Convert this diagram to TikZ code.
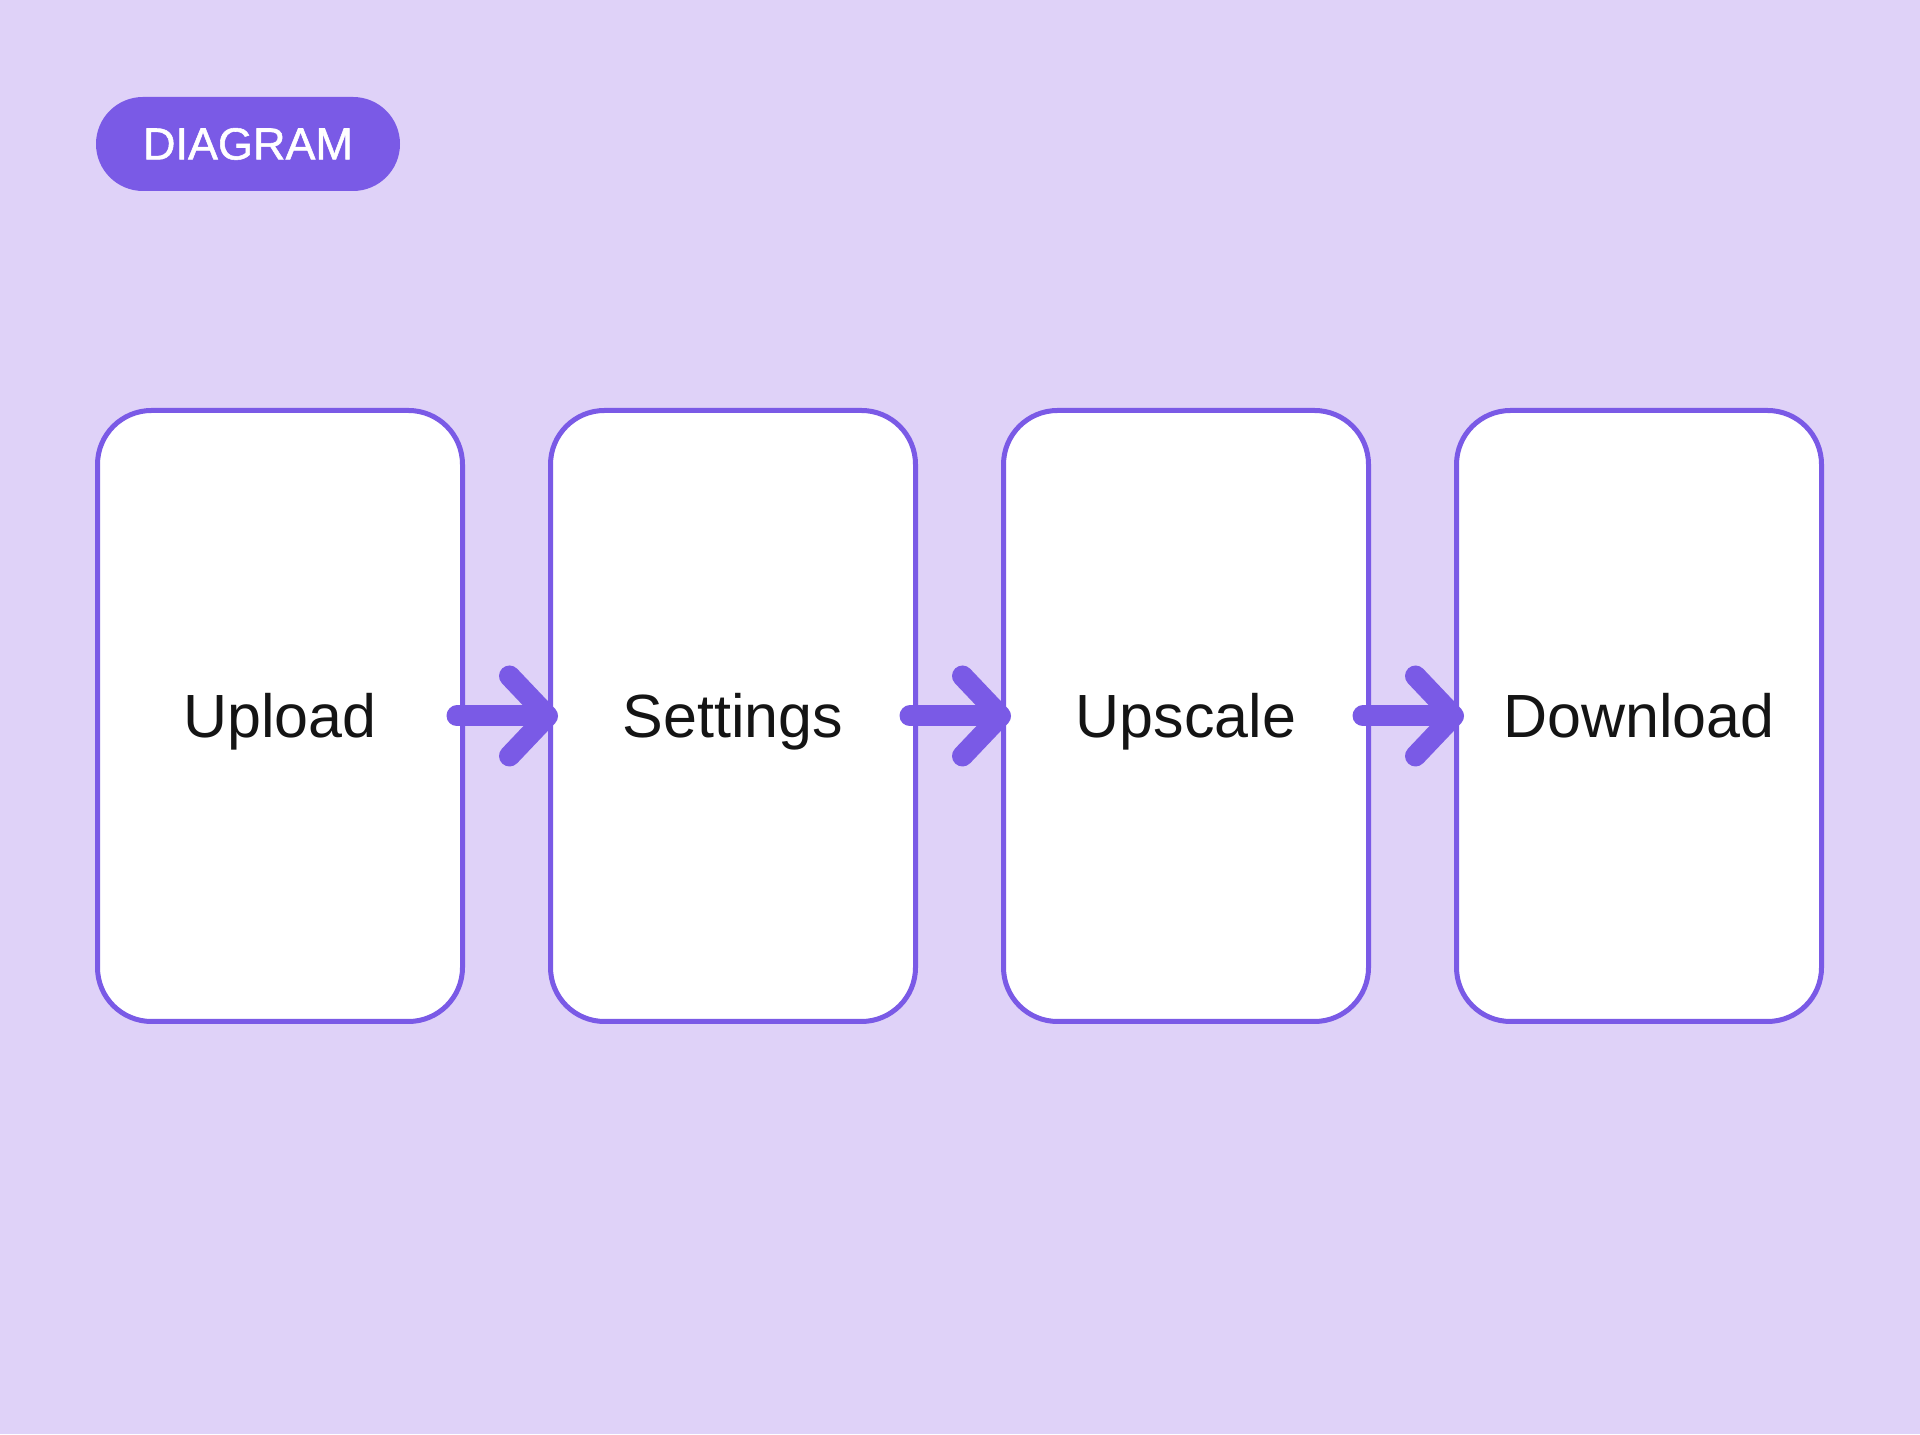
\documentclass[tikz,border=0pt]{standalone}
\usepackage{fontspec}
\setmainfont{Liberation Sans}
\newfontfamily\badgefont{Liberation Sans}[FakeBold=1.2]
\usetikzlibrary{positioning, arrows.meta}

\definecolor{bgpurple}{HTML}{DFD2F8}
\definecolor{accent}{HTML}{7A5AE6}
\definecolor{inktext}{HTML}{141414}

\begin{document}
\begin{tikzpicture}[
      stage/.style={rectangle, draw=accent, line width=2.5pt, fill=white, rounded corners=27pt,
        minimum width=182.5pt, minimum height=305.5pt, inner sep=0pt, text=inktext,
        font=\fontsize{30.5}{36}\selectfont, text height=21.8pt, text depth=0pt},
      badge/.style={rectangle, fill=accent, rounded corners=23.5pt, minimum width=152pt,
        minimum height=47pt, inner sep=0pt, text=white, font=\badgefont\fontsize{22.5}{26}\selectfont},
      flow/.style={accent, line width=10.5pt, line cap=round,
        -{Straight Barb[length=19pt, width=40pt, line width=10.5pt, round]}}
  ]

  \fill[bgpurple] (0,0) rectangle (960pt,717pt);
  \useasboundingbox (0,0) rectangle (960pt,717pt);

  \node[badge] (tag) at (124pt,645pt) {DIAGRAM};

  \node[stage] (s1) at (140pt,359pt) {Upload};
  \node[stage, right=41.5pt of s1] (s2) {Settings};
  \node[stage, right=41.5pt of s2] (s3) {Upscale};
  \node[stage, right=41.5pt of s3] (s4) {Download};

  \foreach \a/\b in {s1/s2, s2/s3, s3/s4} {
    \draw[flow] ([xshift=-4pt]\a.east) -- ([xshift=5pt]\b.west);
  }
  \end{tikzpicture}
\end{document}
